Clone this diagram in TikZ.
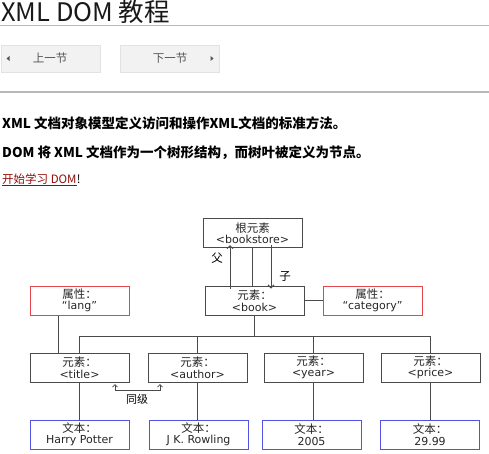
\documentclass[tikz,border=0pt]{standalone}
\usepackage{fontspec}
\setmainfont{Noto Sans CJK SC}
\newfontfamily\vd{DejaVu Sans}
\newfontfamily\cjk{Noto Sans CJK SC}
\usetikzlibrary{arrows.meta}
\definecolor{boxgray}{HTML}{4A4A4A}
\definecolor{attrred}{HTML}{E4464E}
\definecolor{textblue}{HTML}{5252E6}
\definecolor{rulegray}{HTML}{B8B8B8}
\definecolor{btnfill}{HTML}{F2F2F2}
\definecolor{btnline}{HTML}{E2E2E2}
\definecolor{btntext}{HTML}{555555}
\definecolor{linkred}{HTML}{900B09}
\begin{document}
\begin{tikzpicture}[x=1pt,y=-1pt,
  box/.style={draw=boxgray, line width=1pt, minimum width=99pt, minimum height=29pt,
    inner sep=0pt, align=center, font=\vd\fontsize{11}{11.5}\selectfont, text=black!85},
  attrbox/.style={box, draw=attrred},
  txtbox/.style={box, draw=textblue},
  conn/.style={draw=boxgray, line width=1pt},
  arr/.style={conn, -{Straight Barb[length=3pt,width=6pt]}},
  btn/.style={draw=btnline, fill=btnfill, minimum width=99pt, minimum height=27pt, inner sep=0pt},
  btnlabel/.style={font=\fontsize{11.5}{12}\selectfont, text=btntext},
  cjkl/.style={font=\cjk\fontsize{11.5}{11.5}\selectfont},
  para/.style={anchor=base west, inner sep=0pt, font=\bfseries\fontsize{13.5}{14}\selectfont}]
\useasboundingbox (0,0) rectangle (489,453);
% header
\node[anchor=base west, inner sep=0pt, text height=19pt, text depth=3pt, font=\fontsize{25.5}{27}\selectfont, text=black!90] (title) at (1,21.5) {XML DOM 教程};
\coordinate (r1a) at (0,25.5); \coordinate (r1b) at (489,25.5);
\draw[rulegray, line width=1.2pt] (r1a) -- (r1b);
\node[btn] (prev) at (50.5,58.5) {};
\node[btn] (next) at (169.5,58.5) {};
\node[btnlabel] (prevt) at (50,58.5) {上一节};
\node[btnlabel] (nextt) at (170,58.5) {下一节};
\fill[btntext] (6.5,58.5) -- (9.5,56) -- (9.5,61) -- cycle;
\fill[btntext] (213.5,58.5) -- (210.5,56) -- (210.5,61) -- cycle;
\coordinate (r2a) at (0,92); \coordinate (r2b) at (489,92);
\draw[rulegray, line width=1.2pt] (r2a) -- (r2b);
\node[para] (p1) at (2,128) {XML 文档对象模型定义访问和操作XML文档的标准方法。};
\node[para] (p2) at (2,157) {DOM 将 XML 文档作为一个树形结构，而树叶被定义为节点。};
\node[anchor=base west, inner sep=0pt, font=\fontsize{11.5}{12}\selectfont, text=linkred] (lnk) at (2,183) {开始学习 DOM};
\node[anchor=base west, inner sep=0pt, font=\fontsize{11.5}{12}\selectfont] (excl) at (lnk.base east) {!};
\draw[linkred, line width=0.6pt] ([yshift=-2pt]lnk.base west) -- ([yshift=-2pt]lnk.base east);
% tree
\node[box] (root) at (252.5,233) {{\cjk\fontsize{11.5}{11.5}\selectfont 根元素}\\<bookstore>};
\node[box] (book) at (254.5,300.5) {{\cjk\fontsize{11.5}{11.5}\selectfont 元素：}\\<book>};
\node[attrbox] (lang) at (79.5,300.5) {{\cjk\fontsize{11.5}{11.5}\selectfont 属性：}\\“lang”};
\node[attrbox] (cat) at (372.5,300.5) {{\cjk\fontsize{11.5}{11.5}\selectfont 属性：}\\“category”};
\node[box] (etitle) at (79.5,367.5) {{\cjk\fontsize{11.5}{11.5}\selectfont 元素：}\\<title>};
\node[box] (eauthor) at (197.5,367.5) {{\cjk\fontsize{11.5}{11.5}\selectfont 元素：}\\<author>};
\node[box] (eyear) at (313.5,367.5) {{\cjk\fontsize{11.5}{11.5}\selectfont 元素：}\\<year>};
\node[box] (eprice) at (430.5,367.5) {{\cjk\fontsize{11.5}{11.5}\selectfont 元素：}\\<price>};
\node[txtbox] (ttitle) at (79.5,434.5) {{\cjk\fontsize{11.5}{11.5}\selectfont 文本：}\\Harry Potter};
\node[txtbox] (tauthor) at (198.5,434.5) {{\cjk\fontsize{11.5}{11.5}\selectfont 文本：}\\J K. Rowling};
\node[txtbox] (tyear) at (311.5,434.5) {{\cjk\fontsize{11.5}{11.5}\selectfont 文本：}\\2005};
\node[txtbox] (tprice) at (430,434.5) {{\cjk\fontsize{11.5}{11.5}\selectfont 文本：}\\29.99};
% connectors
\coordinate (bus) at (0,336);
\coordinate (upx) at (230,0);
\coordinate (dnx) at (271,0);
\coordinate (lx) at (58,0);
\draw[conn] (root.south) -- (root.south |- book.north);
\draw[conn] (book.south) -- (book.south |- bus);
\draw[conn] (book.east) -- (cat.west);
\draw[conn] (lang.south -| lx) -- (etitle.north -| lx);
\draw[conn] (etitle.north) -- (etitle.north |- bus) -- (eprice.north |- bus) -- (eprice.north);
\draw[conn] (eauthor.north) -- (eauthor.north |- bus);
\draw[conn] (eyear.north) -- (eyear.north |- bus);
\draw[conn] (etitle.south) -- (ttitle.north -| etitle.south);
\draw[conn] (eauthor.south) -- (tauthor.north -| eauthor.south);
\draw[conn] (eyear.south) -- (tyear.north -| eyear.south);
\draw[conn] (eprice.south) -- (tprice.north -| eprice.south);
\draw[arr] ([yshift=-3pt]book.north -| upx) -- ([yshift=3pt]root.south -| upx);
\draw[arr] ([yshift=3pt]root.south -| dnx) -- ([yshift=-3pt]book.north -| dnx);
\node[cjkl] (fu) at (217,258) {父};
\node[cjkl] (zi) at (285,276) {子};
\coordinate (s1) at (115,384);
\coordinate (s1b) at (115,390);
\coordinate (s2b) at (160,390);
\coordinate (s2) at (160,384);
\draw[conn, line width=0.8pt, {Straight Barb[length=2.5pt,width=5pt]}-{Straight Barb[length=2.5pt,width=5pt]}] (s1) -- (s1b) -- (s2b) -- (s2);
\node[font=\cjk\fontsize{11}{11}\selectfont] (tj) at (137,399) {同级};
\end{tikzpicture}
\end{document}
